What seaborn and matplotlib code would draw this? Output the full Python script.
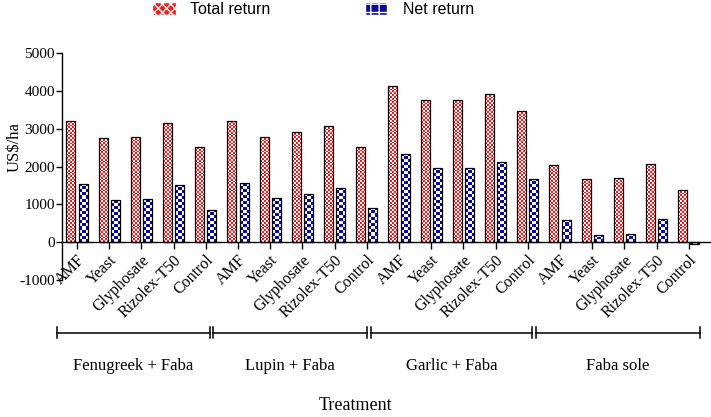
import numpy as np
import pandas as pd
import matplotlib
matplotlib.use("Agg")
import matplotlib.pyplot as plt
import matplotlib.transforms as mtransforms
from matplotlib.patches import Patch
import seaborn as sns

systems = ["Fenugreek + Faba", "Lupin + Faba", "Garlic + Faba", "Faba sole"]
treatments = ["AMF", "Yeast", "Glyphosate", "Rizolex-T50", "Control"]
total_return = [3200, 2760, 2790, 3160, 2510,
                3200, 2790, 2910, 3070, 2520,
                4140, 3760, 3760, 3920, 3470,
                2030, 1660, 1690, 2060, 1380]
net_return = [1540, 1110, 1130, 1510, 850,
              1560, 1160, 1280, 1440, 900,
              2330, 1960, 1960, 2120, 1670,
              590, 200, 230, 620, -60]
yticks = [-1000, 0, 1000, 2000, 3000, 4000, 5000]

RED = "#f21c1c"
BLUE = "#0a0a9c"

slots = [f"{s}|{t}" for s in systems for t in treatments]
df = pd.DataFrame({
    "slot": slots * 2,
    "series": ["Total return"] * len(slots) + ["Net return"] * len(slots),
    "value": total_return + net_return,
})

fig = plt.figure(figsize=(7.11, 4.17), dpi=100)
ax = fig.add_axes([0.087, 0.3285, 0.913, 0.544])

sns.barplot(data=df, x="slot", y="value", hue="series", order=slots,
            hue_order=["Total return", "Net return"],
            palette={"Total return": RED, "Net return": BLUE},
            width=0.76, gap=0.26, edgecolor="black", linewidth=0.9,
            legend=False, ax=ax)

ax.set_xlim(-0.47, 19.69)
ax.set_ylim(-1000, 5000)
fig.canvas.draw()


def checker(patch, color, ncols):
    # checkerboard fill clipped to the bar
    x0, y0 = patch.get_x(), patch.get_y()
    x1, y1 = x0 + patch.get_width(), y0 + patch.get_height()
    (px0, py0), (px1, py1) = ax.transData.transform([(x0, y0), (x1, y1)])
    cell = abs(px1 - px0) / ncols
    nrows = max(1, int(round(abs(py1 - py0) / cell)))
    ii, jj = np.indices((nrows, ncols))
    board = (ii + jj) % 2
    rgb = np.array(matplotlib.colors.to_rgb(color))
    img = np.where(board[..., None] == 0, rgb, np.ones(3))
    im = ax.imshow(img, extent=(x0, x1, min(y0, y1), max(y0, y1)),
                   origin="lower", aspect="auto", interpolation="nearest",
                   zorder=2.5)
    im.set_clip_path(patch)
    patch.set_facecolor("none")
    patch.set_zorder(3)


for p in ax.containers[0]:
    checker(p, RED, 5)
for p in ax.containers[1]:
    checker(p, BLUE, 3)

ax.set_xlim(-0.47, 19.69)
ax.set_ylim(-1000, 5000)

serif = "Liberation Serif"
sans = "Liberation Sans"

ax.spines["top"].set_visible(False)
ax.spines["right"].set_visible(False)
ax.spines["bottom"].set_position(("data", 0))
for s in ["left", "bottom"]:
    ax.spines[s].set_linewidth(1.0)

ax.set_yticks(yticks)
ax.set_yticklabels([str(v) for v in yticks], fontfamily=serif, fontsize=11)
ax.tick_params(axis="y", direction="out", length=4, width=1, pad=1)
ax.tick_params(axis="x", direction="out", length=5, width=1, pad=2)
ax.set_xticks(range(len(slots)))
ax.set_xticklabels(treatments * len(systems), rotation=45, ha="right",
                   va="top", rotation_mode="anchor", fontfamily=serif,
                   fontsize=11.5)
ax.set_xlabel("")
ax.set_ylabel("US$/ha", fontfamily=serif, fontsize=12)
ax.yaxis.set_label_coords(-0.06, 0.586)

# group brackets under the axis
trans = mtransforms.blended_transform_factory(ax.transData, ax.transAxes)
spans = [(-0.62, 4.13), (4.22, 9.0), (9.13, 14.13), (14.25, 19.35)]
yb, th = -0.233, 0.024
for (a, b), name in zip(spans, systems):
    ax.plot([a, b], [yb, yb], color="black", lw=1.1, transform=trans, clip_on=False)
    for x in (a, b):
        ax.plot([x, x], [yb - th, yb + th], color="black", lw=1.1,
                transform=trans, clip_on=False)
    ax.text((a + b) / 2, -0.38, name, transform=trans, ha="center", va="center",
            fontfamily=serif, fontsize=12)

fig.text(0.5, 0.028, "Treatment", ha="center", va="center",
         fontfamily=serif, fontsize=13)

handles = [Patch(facecolor=RED, edgecolor="white", hatch="xxxx", label="Total return"),
           Patch(facecolor=BLUE, edgecolor="white", hatch="++", label="Net return")]
fig.legend(handles=handles, loc="center", bbox_to_anchor=(0.44, 0.978), ncol=2,
           frameon=False, prop={"family": sans, "size": 11.5},
           handlelength=1.5, handleheight=0.9, columnspacing=5.9, handletextpad=0.9)

fig.savefig("out.png", dpi=100)
